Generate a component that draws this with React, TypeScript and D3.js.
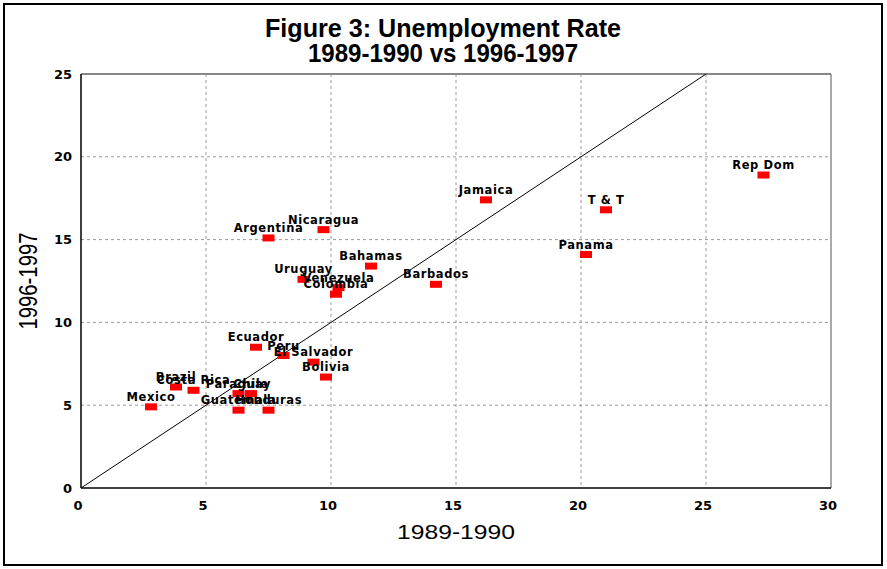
import React from 'react'
import * as d3 from 'd3'

// unemployment rate, 1989-1990 (x) vs 1996-1997 (y)
const countries = ['Mexico', 'Brazil', 'Costa Rica', 'Paraguay', 'Chile', 'Guatemala', 'Honduras',
  'Ecuador', 'Peru', 'El Salvador', 'Bolivia', 'Argentina', 'Nicaragua', 'Bahamas', 'Uruguay',
  'Venezuela', 'Colombia', 'Barbados', 'Jamaica', 'T & T', 'Panama', 'Rep Dom']
const rate8990 = [2.8, 3.8, 4.5, 6.3, 6.8, 6.3, 7.5, 7.0, 8.1, 9.3, 9.8, 7.5, 9.7, 11.6, 8.9,
  10.3, 10.2, 14.2, 16.2, 21.0, 20.2, 27.3]
const rate9697 = [4.9, 6.1, 5.9, 5.7, 5.7, 4.7, 4.7, 8.5, 8.0, 7.6, 6.7, 15.1, 15.6, 13.4, 12.6,
  12.1, 11.7, 12.3, 17.4, 16.8, 14.1, 18.9]
const xTicks = [0, 5, 10, 15, 20, 25, 30]
const yTicks = [0, 5, 10, 15, 20, 25]

const W = 887, H = 569
const left = 81, top = 74, right = 831, bottom = 488

const Scatter = () => {
    const x = d3.scaleLinear().domain([0, 30]).range([left, right])
    const y = d3.scaleLinear().domain([0, 25]).range([bottom, top])
    const diag = d3.line<number>().x(d => x(d)).y(d => y(d))([0, 25])

    const tickFont = { fontFamily: 'DejaVu Sans', fontWeight: 'bold', fontSize: 13 }
    const labelFont = { fontFamily: 'DejaVu Sans', fontWeight: 'bold', fontSize: 11.5, letterSpacing: 0.6 }
    const titleFont = { fontFamily: 'Liberation Sans', fontWeight: 'bold', fontSize: 26 }

    return (
        <svg width={W} height={H} style={{ position: 'absolute', left: 0, top: 0, background: '#fff' }}>
            <rect x={4} y={4} width={878} height={561} fill="#fff" stroke="#000" strokeWidth={2} />

            <text x={443} y={37} textAnchor="middle" textLength={356} lengthAdjust="spacingAndGlyphs" style={titleFont}>
                Figure 3: Unemployment Rate
            </text>
            <text x={443} y={62} textAnchor="middle" textLength={270} lengthAdjust="spacingAndGlyphs" style={titleFont}>
                1989-1990 vs 1996-1997
            </text>

            {/* grid */}
            <g stroke="#9a9a9a" strokeDasharray="3,3" strokeWidth={1}>
                {xTicks.slice(1, -1).map(t =>
                    <line key={'gx' + t} x1={x(t)} x2={x(t)} y1={top} y2={bottom} />)}
                {yTicks.slice(1, -1).map(t =>
                    <line key={'gy' + t} x1={left} x2={right} y1={y(t)} y2={y(t)} />)}
            </g>
            <line x1={left} x2={right} y1={top} y2={top} stroke="#888" strokeWidth={2} />
            <line x1={right} x2={right} y1={top} y2={bottom} stroke="#555" strokeWidth={1} />
            <line x1={left} x2={left} y1={top} y2={bottom} stroke="#000" strokeWidth={1.5} />
            <line x1={left} x2={right} y1={bottom} y2={bottom} stroke="#000" strokeWidth={1.5} />

            <path d={diag || ''} stroke="#000" strokeWidth={1} fill="none" />

            {xTicks.map(t =>
                <text key={'tx' + t} x={x(t) - 3} y={510} textAnchor="middle" style={tickFont}>{t}</text>)}
            {yTicks.map(t =>
                <text key={'ty' + t} x={72} y={y(t)} dy="0.35em" textAnchor="end" style={tickFont}>{t}</text>)}

            <text x={456} y={539} textAnchor="middle" textLength={118} lengthAdjust="spacingAndGlyphs"
                style={{ fontFamily: 'Liberation Sans', fontSize: 21 }}>1989-1990</text>
            <text transform={`translate(37, 281) rotate(-90)`} textAnchor="middle" textLength={97}
                lengthAdjust="spacingAndGlyphs" style={{ fontFamily: 'Liberation Sans', fontSize: 25 }}>1996-1997</text>

            {countries.map((c, i) => (
                <g key={c}>
                    <rect x={x(rate8990[i]) - 6} y={y(rate9697[i]) - 3.5} width={12} height={7} fill="#ff0000" />
                    <text x={x(rate8990[i])} y={y(rate9697[i]) - 6} textAnchor="middle" style={labelFont}>{c}</text>
                </g>
            ))}
        </svg>
    )
}

export default function App() {
    return <Scatter />
}
